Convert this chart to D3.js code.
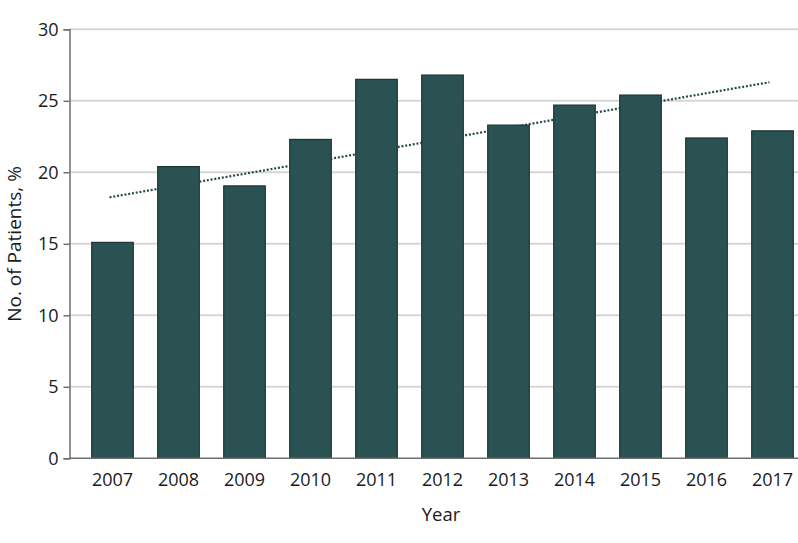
<!DOCTYPE html>
<html>
<head>
<meta charset="utf-8">
<script src="https://cdn.jsdelivr.net/npm/d3@7"></script>
<style>
  body { margin: 0; background: #fff; }
  text { font-family: "Open Sans", "Noto Sans", sans-serif; fill: #1a1a1a; }
</style>
</head>
<body>
<svg id="vis" width="798" height="543"></svg>
<script>
const svg = d3.select("#vis");

const YEARS = ["2007", "2008", "2009", "2010", "2011", "2012", "2013", "2014", "2015", "2016", "2017"];
const PERCENTS = [15.1, 20.4, 19.05, 22.3, 26.5, 26.8, 23.3, 24.7, 25.4, 22.4, 22.9];
const TREND_YEARS = ["2007", "2017"];
const TREND_VALUES = [18.25, 26.3];
const Y_TICKS = [0, 5, 10, 15, 20, 25, 30];

const BAR_FILL = "#2b5252";
const BAR_STROKE = "#1c3535";

const plotLeft = 69.5, plotRight = 798, plotTop = 29.3, plotBottom = 458.3;

const x = d3.scaleBand().domain(YEARS).range([79.5, 805.5])
    .paddingInner(0.37).paddingOuter(0.185);
const y = d3.scaleLinear().domain([0, 30]).range([plotBottom, plotTop]);

// gridlines
svg.selectAll(".grid").data(Y_TICKS.filter(d => d > 0)).join("line")
    .attr("class", "grid")
    .attr("x1", plotLeft).attr("x2", plotRight)
    .attr("y1", d => y(d)).attr("y2", d => y(d))
    .attr("stroke", "#d6d6d6").attr("stroke-width", 2);

// trend line (dotted), sits behind the bars
const trend = TREND_YEARS.map((d, i) => [x(d) + x.bandwidth() / 2 - 3, y(TREND_VALUES[i])]);
svg.append("path")
    .attr("d", d3.line()(trend))
    .attr("fill", "none")
    .attr("stroke", "#24494a")
    .attr("stroke-width", 2.2)
    .attr("stroke-dasharray", "2,1.8");

// bars
svg.selectAll(".bar").data(YEARS).join("rect")
    .attr("class", "bar")
    .attr("x", d => x(d))
    .attr("width", x.bandwidth())
    .attr("y", (d, i) => y(PERCENTS[i]))
    .attr("height", (d, i) => y(0) - y(PERCENTS[i]))
    .attr("fill", BAR_FILL)
    .attr("stroke", BAR_STROKE)
    .attr("stroke-width", 1.2);

// y axis
const yAxis = svg.append("g")
    .attr("transform", `translate(${plotLeft},0)`)
    .call(d3.axisLeft(y).tickValues(Y_TICKS).tickSize(6).tickPadding(5));
yAxis.select(".domain").attr("stroke", "#6e6e6e").attr("stroke-width", 1.5);
yAxis.selectAll(".tick line").attr("stroke", "#6e6e6e").attr("stroke-width", 1.5);
yAxis.selectAll(".tick text").attr("font-size", 18).attr("fill", "#1a1a1a")
    .style("font-family", "'Open Sans', 'Noto Sans', sans-serif");

// x axis baseline
svg.append("line")
    .attr("x1", plotLeft).attr("x2", plotRight)
    .attr("y1", y(0)).attr("y2", y(0))
    .attr("stroke", "#6e6e6e").attr("stroke-width", 1.5);

// x labels
svg.selectAll(".xlab").data(YEARS).join("text")
    .attr("class", "xlab")
    .attr("x", d => x(d) + x.bandwidth() / 2)
    .attr("y", 486)
    .attr("text-anchor", "middle")
    .attr("font-size", 18)
    .text(d => d);

// axis titles
svg.append("text")
    .attr("x", 441).attr("y", 521)
    .attr("text-anchor", "middle")
    .attr("font-size", 18.5)
    .text("Year");

svg.append("text")
    .attr("transform", "translate(21,244) rotate(-90)")
    .attr("text-anchor", "middle")
    .attr("font-size", 19)
    .text("No. of Patients, %");
</script>
</body>
</html>
